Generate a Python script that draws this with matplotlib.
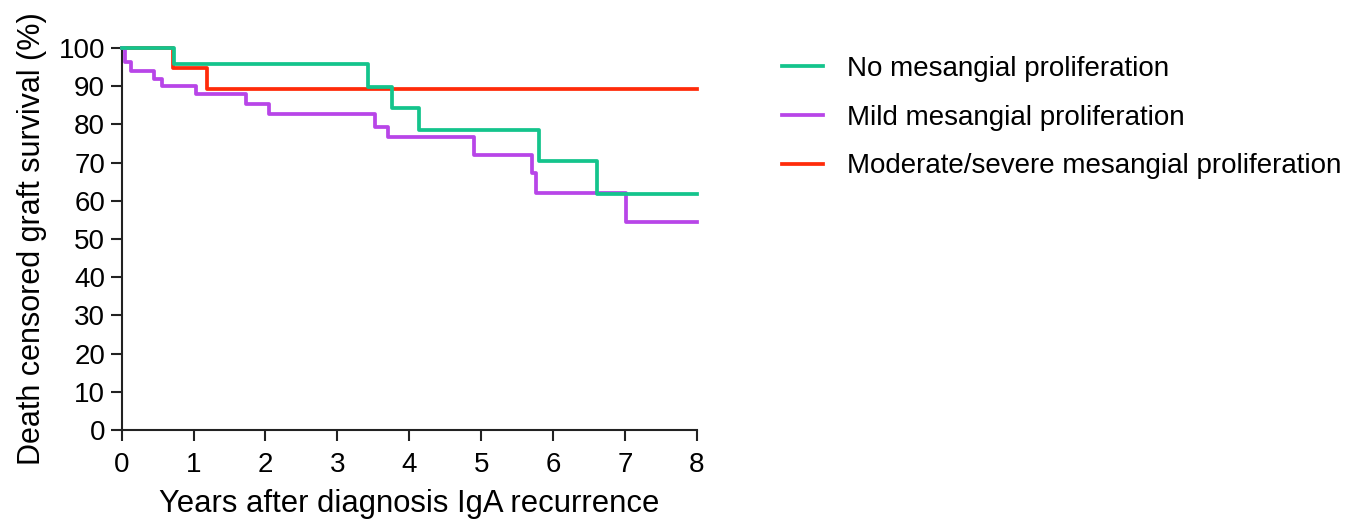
import matplotlib
matplotlib.use("Agg")
from matplotlib import pyplot as plt

plt.rcParams["font.family"] = ["Liberation Sans", "DejaVu Sans"]

# step times (years) and survival (%) after each step
no_t = [0, 0.73, 3.42, 3.76, 4.14, 5.80, 6.61, 8]
no_s = [100, 95.7, 89.9, 84.3, 78.5, 70.5, 61.8, 61.8]

mild_t = [0, 0.04, 0.13, 0.45, 0.56, 1.03, 1.73, 2.05, 3.52, 3.70, 4.90, 5.71, 5.76, 7.01, 8]
mild_s = [100, 96.3, 94.0, 92.0, 90.1, 88.0, 85.3, 82.6, 79.4, 76.6, 72.0, 67.2, 62.1, 54.5, 54.5]

mod_t = [0, 0.71, 1.18, 8]
mod_s = [100, 94.7, 89.2, 89.2]

labels = ["No mesangial proliferation", "Mild mesangial proliferation",
          "Moderate/severe mesangial proliferation"]
colors = ["#14C48C", "#B845E8", "#FF2B0A"]

fig = plt.figure(figsize=(13.52, 5.26), dpi=100)
ax = fig.add_axes([0.090, 0.1825, 0.4255, 0.7262])

# green drawn on top, red at the bottom
for t, s, lab, c, z in zip([no_t, mild_t, mod_t], [no_s, mild_s, mod_s], labels, colors, [5, 4, 3]):
    ax.step(t, s, where="post", color=c, lw=2.7, label=lab, clip_on=False, zorder=z)

ax.set_xlim(0, 8)
ax.set_ylim(0, 100)
ax.set_xticks(range(0, 9))
ax.set_yticks(range(0, 101, 10))
ax.spines["top"].set_visible(False)
ax.spines["right"].set_visible(False)
for sp in ["left", "bottom"]:
    ax.spines[sp].set_linewidth(1.5)
    ax.spines[sp].set_color("#222222")
ax.tick_params(direction="out", length=8, width=1.5, labelsize=20, color="#222222")
ax.tick_params(axis="x", pad=8)
ax.tick_params(axis="y", pad=4)

ax.set_xlabel("Years after diagnosis IgA recurrence", fontsize=22.3, labelpad=8)
ax.set_ylabel("Death censored graft survival (%)", fontsize=22, labelpad=8)

ax.legend(loc="upper left", bbox_to_anchor=(0.5596, 0.9414), bbox_transform=fig.transFigure,
          frameon=False, fontsize=20, handlelength=1.5, handletextpad=0.86,
          labelspacing=0.82)

plt.savefig("out.png")
